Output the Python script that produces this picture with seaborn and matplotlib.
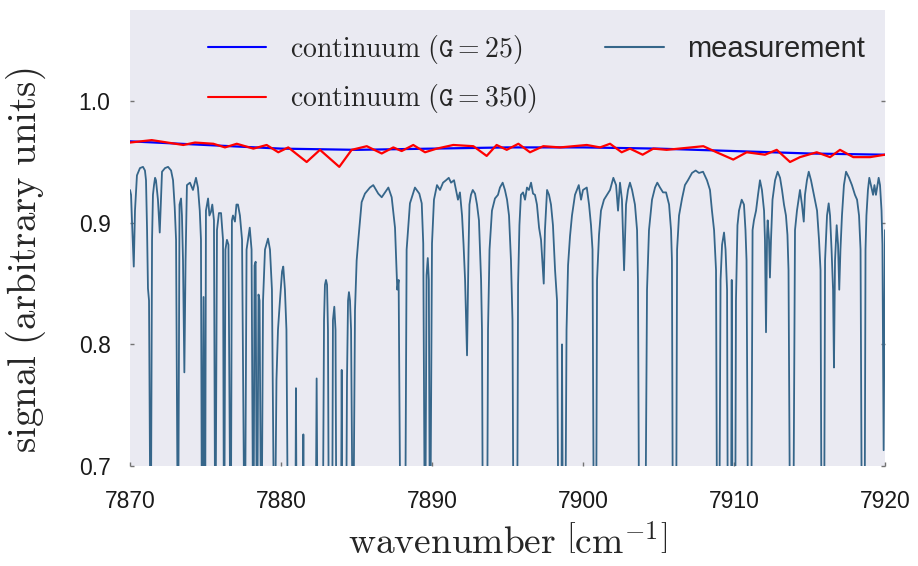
import matplotlib
matplotlib.use("Agg")
import matplotlib.pyplot as plt
import seaborn as sns
import pandas as pd

# ---- data ----
WN_MEAS = [
    7870.00, 7870.07, 7870.13, 7870.25, 7870.33, 7870.46, 7870.66, 7870.86, 7870.99, 7871.06,
    7871.13, 7871.19, 7871.26, 7871.37, 7871.46, 7871.52, 7871.59, 7871.66, 7871.72, 7871.85,
    7871.97, 7872.05, 7872.12, 7872.32, 7872.52, 7872.72, 7872.85, 7872.96, 7873.05, 7873.18,
    7873.28, 7873.38, 7873.44, 7873.51, 7873.60, 7873.68, 7873.77, 7873.97, 7874.17, 7874.37,
    7874.50, 7874.62, 7874.70, 7874.77, 7874.87, 7874.97, 7875.03, 7875.17, 7875.26, 7875.36,
    7875.45, 7875.56, 7875.65, 7875.76, 7875.89, 7876.03, 7876.16, 7876.23, 7876.32, 7876.42,
    7876.52, 7876.67, 7876.75, 7876.82, 7876.95, 7877.05, 7877.15, 7877.28, 7877.42, 7877.60,
    7877.72, 7877.93, 7878.05, 7878.17, 7878.25, 7878.32, 7878.41, 7878.51, 7878.58, 7878.70,
    7878.81, 7878.94, 7879.14, 7879.27, 7879.40, 7879.57, 7879.70, 7879.80, 7879.93, 7880.07,
    7880.15, 7880.26, 7880.36, 7880.48, 7880.94, 7880.99, 7881.05, 7881.43, 7881.48, 7881.52,
    7882.28, 7882.36, 7882.44, 7882.75, 7882.85, 7882.91, 7882.98, 7883.05, 7883.11, 7883.18,
    7883.38, 7883.44, 7883.53, 7883.61, 7883.68, 7883.96, 7884.02, 7884.08, 7884.30, 7884.37,
    7884.44, 7884.50, 7884.57, 7884.64, 7884.77, 7884.90, 7885.01, 7885.12, 7885.34, 7885.56,
    7885.89, 7886.11, 7886.44, 7886.67, 7886.89, 7887.11, 7887.33, 7887.55, 7887.70, 7887.79,
    7887.93, 7888.21, 7888.32, 7888.54, 7888.87, 7889.16, 7889.32, 7889.42, 7889.54, 7889.64,
    7889.72, 7889.79, 7889.87, 7890.00, 7890.13, 7890.33, 7890.53, 7890.73, 7890.93, 7891.11,
    7891.26, 7891.46, 7891.59, 7891.72, 7891.85, 7891.99, 7892.09, 7892.19, 7892.32, 7892.42,
    7892.48, 7892.58, 7892.70, 7892.85, 7892.98, 7893.11, 7893.25, 7893.31, 7893.38, 7893.64,
    7893.71, 7893.81, 7893.97, 7894.17, 7894.37, 7894.50, 7894.68, 7894.83, 7894.97, 7895.10,
    7895.23, 7895.33, 7895.41, 7895.63, 7895.70, 7895.79, 7895.89, 7896.03, 7896.16, 7896.29,
    7896.42, 7896.56, 7896.69, 7896.82, 7896.95, 7897.09, 7897.22, 7897.40, 7897.48, 7897.62,
    7897.75, 7897.88, 7898.01, 7898.15, 7898.28, 7898.39, 7898.56, 7898.61, 7898.68, 7898.81,
    7898.91, 7899.01, 7899.14, 7899.27, 7899.47, 7899.72, 7899.87, 7900.00, 7900.25, 7900.40,
    7900.53, 7900.63, 7900.73, 7900.86, 7900.93, 7901.06, 7901.19, 7901.39, 7901.59, 7901.79,
    7902.01, 7902.19, 7902.32, 7902.45, 7902.58, 7902.72, 7902.85, 7902.98, 7903.11, 7903.25,
    7903.44, 7903.58, 7903.64, 7903.73, 7904.11, 7904.24, 7904.37, 7904.57, 7904.77, 7904.92,
    7905.10, 7905.30, 7905.50, 7905.70, 7905.83, 7905.89, 7905.96, 7906.16, 7906.23, 7906.36,
    7906.56, 7906.75, 7906.95, 7907.22, 7907.46, 7907.68, 7907.95, 7908.21, 7908.41, 7908.54,
    7908.68, 7908.81, 7908.89, 7909.01, 7909.11, 7909.21, 7909.34, 7909.44, 7909.54, 7909.60,
    7909.80, 7909.85, 7909.91, 7910.07, 7910.13, 7910.23, 7910.33, 7910.51, 7910.66, 7910.76,
    7910.83, 7910.95, 7911.13, 7911.23, 7911.32, 7911.46, 7911.59, 7911.72, 7911.85, 7911.99,
    7912.05, 7912.12, 7912.19, 7912.23, 7912.32, 7912.38, 7912.45, 7912.55, 7912.72, 7912.89,
    7913.05, 7913.18, 7913.31, 7913.44, 7913.54, 7913.61, 7913.73, 7913.91, 7914.04, 7914.17,
    7914.37, 7914.50, 7914.62, 7914.70, 7914.83, 7914.95, 7915.10, 7915.23, 7915.36, 7915.50,
    7915.63, 7915.73, 7915.81, 7915.96, 7916.03, 7916.16, 7916.27, 7916.36, 7916.46, 7916.56,
    7916.62, 7916.69, 7916.80, 7916.89, 7916.97, 7917.05, 7917.15, 7917.28, 7917.42, 7917.62,
    7917.81, 7918.01, 7918.15, 7918.28, 7918.38, 7918.48, 7918.64, 7918.71, 7918.77, 7918.87,
    7918.96, 7919.07, 7919.21, 7919.30, 7919.40, 7919.58, 7919.67, 7919.77, 7919.83, 7919.91,
    7920.00,
]
SIG_MEAS = [
    0.927, 0.923, 0.902, 0.864, 0.910, 0.939, 0.945, 0.946, 0.943, 0.935,
    0.894, 0.846, 0.836, 0.600, 0.886, 0.923, 0.931, 0.937, 0.935, 0.919,
    0.892, 0.919, 0.942, 0.945, 0.946, 0.943, 0.935, 0.913, 0.886, 0.600,
    0.915, 0.920, 0.906, 0.869, 0.777, 0.869, 0.931, 0.933, 0.927, 0.937,
    0.929, 0.910, 0.886, 0.600, 0.839, 0.600, 0.910, 0.920, 0.906, 0.909,
    0.915, 0.902, 0.600, 0.894, 0.908, 0.908, 0.886, 0.600, 0.878, 0.886,
    0.882, 0.600, 0.902, 0.906, 0.901, 0.915, 0.915, 0.906, 0.886, 0.600,
    0.878, 0.896, 0.878, 0.600, 0.865, 0.868, 0.600, 0.841, 0.836, 0.600,
    0.836, 0.878, 0.887, 0.878, 0.845, 0.600, 0.771, 0.812, 0.836, 0.860,
    0.864, 0.845, 0.812, 0.600, 0.600, 0.764, 0.600, 0.600, 0.726, 0.600,
    0.600, 0.772, 0.600, 0.600, 0.820, 0.849, 0.853, 0.849, 0.812, 0.600,
    0.600, 0.820, 0.831, 0.812, 0.600, 0.600, 0.779, 0.600, 0.600, 0.771,
    0.836, 0.843, 0.836, 0.812, 0.600, 0.828, 0.869, 0.886, 0.917, 0.924,
    0.929, 0.931, 0.924, 0.921, 0.925, 0.929, 0.921, 0.896, 0.845, 0.853,
    0.600, 0.600, 0.878, 0.916, 0.929, 0.924, 0.916, 0.883, 0.600, 0.857,
    0.871, 0.853, 0.600, 0.883, 0.919, 0.931, 0.927, 0.933, 0.935, 0.937,
    0.933, 0.935, 0.927, 0.919, 0.925, 0.906, 0.882, 0.853, 0.791, 0.878,
    0.915, 0.923, 0.927, 0.924, 0.915, 0.902, 0.853, 0.812, 0.600, 0.600,
    0.812, 0.878, 0.910, 0.920, 0.923, 0.929, 0.933, 0.927, 0.919, 0.906,
    0.869, 0.820, 0.600, 0.600, 0.849, 0.898, 0.923, 0.925, 0.919, 0.929,
    0.927, 0.933, 0.924, 0.923, 0.915, 0.896, 0.886, 0.850, 0.894, 0.927,
    0.923, 0.915, 0.898, 0.861, 0.836, 0.600, 0.600, 0.800, 0.600, 0.600,
    0.812, 0.865, 0.889, 0.906, 0.923, 0.931, 0.919, 0.927, 0.929, 0.915,
    0.898, 0.878, 0.600, 0.600, 0.853, 0.890, 0.910, 0.919, 0.923, 0.927,
    0.937, 0.931, 0.910, 0.933, 0.919, 0.861, 0.915, 0.927, 0.933, 0.927,
    0.915, 0.894, 0.853, 0.600, 0.600, 0.845, 0.894, 0.919, 0.929, 0.933,
    0.929, 0.925, 0.925, 0.915, 0.894, 0.869, 0.600, 0.600, 0.878, 0.906,
    0.920, 0.931, 0.935, 0.941, 0.943, 0.941, 0.942, 0.935, 0.927, 0.910,
    0.894, 0.861, 0.600, 0.600, 0.853, 0.882, 0.892, 0.878, 0.845, 0.600,
    0.600, 0.853, 0.600, 0.600, 0.836, 0.898, 0.910, 0.919, 0.915, 0.894,
    0.869, 0.600, 0.600, 0.894, 0.902, 0.910, 0.923, 0.935, 0.927, 0.910,
    0.886, 0.810, 0.890, 0.902, 0.886, 0.855, 0.886, 0.919, 0.935, 0.942,
    0.937, 0.927, 0.915, 0.906, 0.890, 0.861, 0.600, 0.600, 0.894, 0.910,
    0.927, 0.915, 0.901, 0.923, 0.935, 0.942, 0.935, 0.927, 0.919, 0.910,
    0.886, 0.861, 0.600, 0.600, 0.869, 0.906, 0.916, 0.906, 0.878, 0.845,
    0.781, 0.869, 0.898, 0.882, 0.845, 0.878, 0.906, 0.931, 0.942, 0.937,
    0.931, 0.923, 0.919, 0.906, 0.878, 0.600, 0.600, 0.878, 0.906, 0.927,
    0.937, 0.931, 0.923, 0.931, 0.923, 0.937, 0.931, 0.910, 0.882, 0.713,
    0.894,
]

WN_CONT25 = [7870, 7875, 7880, 7885, 7890, 7895, 7900, 7905, 7910, 7915, 7920]
SIG_CONT25 = [0.967, 0.964, 0.961, 0.960, 0.961, 0.962, 0.962, 0.961, 0.959, 0.957, 0.956]

WN_CONT350 = [
    7870.00, 7871.44, 7873.53, 7874.30, 7875.52, 7876.29, 7877.07, 7878.17, 7879.05, 7879.82,
    7880.48, 7881.70, 7882.58, 7883.86, 7884.68, 7885.68, 7886.67, 7887.44, 7887.99, 7888.76,
    7889.54, 7890.31, 7891.41, 7892.74, 7893.62, 7894.28, 7894.95, 7895.72, 7896.49, 7897.37,
    7898.48, 7900.25, 7901.13, 7901.79, 7902.56, 7903.11, 7903.95, 7904.66, 7905.54, 7907.97,
    7908.85, 7909.95, 7910.84, 7912.05, 7912.83, 7913.71, 7914.37, 7915.48, 7916.36, 7917.02,
    7917.90, 7919.01, 7920.00,
]
SIG_CONT350 = [
    0.966, 0.968, 0.964, 0.966, 0.965, 0.962, 0.965, 0.961, 0.964, 0.958,
    0.962, 0.950, 0.960, 0.946, 0.960, 0.963, 0.957, 0.962, 0.959, 0.964,
    0.958, 0.961, 0.964, 0.963, 0.955, 0.964, 0.960, 0.965, 0.958, 0.963,
    0.962, 0.964, 0.962, 0.965, 0.958, 0.961, 0.956, 0.961, 0.960, 0.963,
    0.958, 0.952, 0.958, 0.956, 0.960, 0.950, 0.954, 0.958, 0.954, 0.960,
    0.954, 0.954, 0.956,
]

X_TICKS = [7870, 7880, 7890, 7900, 7910, 7920]
Y_TICKS = [0.7, 0.8, 0.9, 1.0]
Y_TICK_LABELS = ["0.7", "0.8", "0.9", "1.0"]

LABEL_G25 = r"$\mathrm{continuum}\ (\mathtt{G} = 25)$"
LABEL_G350 = r"$\mathrm{continuum}\ (\mathtt{G} = 350)$"
LABEL_MEAS = "measurement"
XLABEL = r"$\mathrm{wavenumber}\ \left[\mathrm{cm}^{-1}\right]$"
YLABEL = r"$\mathrm{signal}\ \mathrm{(arbitrary\ units)}$"

# ---- style ----
sns.set_style("dark")
plt.rcParams["font.family"] = ["Liberation Sans", "DejaVu Sans"]
plt.rcParams["mathtext.fontset"] = "cm"

fig = plt.figure(figsize=(9.18, 5.66), dpi=100)
ax = fig.add_axes([130 / 918, 1 - 466 / 566, 755 / 918, 456 / 566])

meas = pd.DataFrame({"wn": WN_MEAS, "sig": SIG_MEAS})
c25 = pd.DataFrame({"wn": WN_CONT25, "sig": SIG_CONT25})
c350 = pd.DataFrame({"wn": WN_CONT350, "sig": SIG_CONT350})

sns.lineplot(data=meas, x="wn", y="sig", ax=ax, sort=False, estimator=None,
             color="#36668a", lw=1.3, label=LABEL_MEAS, zorder=2)
sns.lineplot(data=c25, x="wn", y="sig", ax=ax, sort=False, estimator=None,
             color="#0000ff", lw=1.6, label=LABEL_G25, zorder=3)
sns.lineplot(data=c350, x="wn", y="sig", ax=ax, sort=False, estimator=None,
             color="#ff0000", lw=1.6, label=LABEL_G350, zorder=4)

ax.set_xlim(7870, 7920)
ax.set_ylim(0.7, 1.075)
ax.set_xticks(X_TICKS)
ax.set_xticklabels([str(t) for t in X_TICKS])
ax.set_yticks(Y_TICKS)
ax.set_yticklabels(Y_TICK_LABELS)
ax.tick_params(axis="both", which="major", direction="in", length=3, width=1,
               color="0.45", labelsize=16.5, labelcolor="0.1",
               top=False, right=True, bottom=True, left=True)
ax.tick_params(axis="x", pad=17)
ax.tick_params(axis="y", pad=14)
for s in ax.spines.values():
    s.set_visible(False)

ax.set_xlabel(XLABEL, fontsize=27, color="0.15", labelpad=9)
ax.set_ylabel(YLABEL, fontsize=28, color="0.15")
ax.yaxis.set_label_coords(-0.108, 0.45)

handles, labels = ax.get_legend_handles_labels()
order = [labels.index(LABEL_G25), labels.index(LABEL_G350), labels.index(LABEL_MEAS)]
leg = ax.legend([handles[i] for i in order], [labels[i] for i in order],
                ncol=2, loc="upper left", bbox_to_anchor=(0.103, 0.95),
                frameon=False, fontsize=20, handlelength=2.1, handletextpad=0.85,
                labelspacing=0.6, columnspacing=2.5, borderpad=0.0,
                borderaxespad=0.0)
leg.get_texts()[2].set_fontsize(21)
for line in leg.get_lines():
    line.set_linewidth(1.5)

fig.savefig("out.png", dpi=100)
